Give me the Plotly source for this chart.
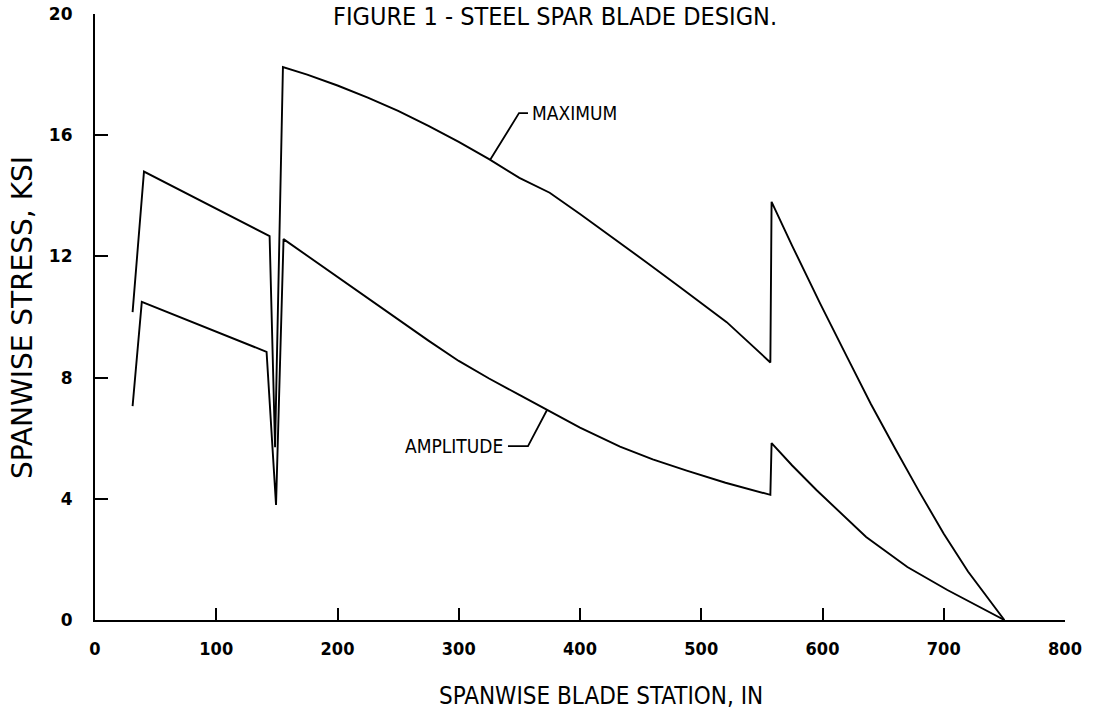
import plotly.graph_objects as go

# Data
station_max = [31, 40.4, 144, 148.5, 155, 175, 200, 225, 250, 275, 300, 325, 350, 375,
               400, 430, 455, 482, 521, 557, 558, 575, 598, 620, 640, 660, 680, 700,
               720, 750]
stress_max = [10.16, 14.8, 12.67, 5.7, 18.25, 18.0, 17.64, 17.24, 16.8, 16.31, 15.78, 15.21,
              14.59, 14.1, 13.4, 12.54, 11.8, 11.0, 9.83, 8.5, 13.8, 12.35, 10.45, 8.7,
              7.12, 5.65, 4.22, 2.85, 1.6, 0.0]

station_amp = [31, 38.6, 141.5, 149.3, 155.5, 175, 200, 225, 250, 275, 300, 325, 350, 373,
               400, 433, 460, 488, 520, 557, 558, 575, 595, 636, 670, 703, 750]
stress_amp = [7.06, 10.5, 8.85, 3.8, 12.57, 12.02, 11.33, 10.62, 9.92, 9.22, 8.55, 7.97,
              7.43, 6.93, 6.35, 5.72, 5.3, 4.93, 4.53, 4.13, 5.84, 5.1, 4.29, 2.74, 1.75,
              0.99, 0.0]

x_ticks = [0, 100, 200, 300, 400, 500, 600, 700, 800]
y_ticks = [0, 4, 8, 12, 16, 20]

FONT = "DejaVu Sans Condensed, Liberation Sans Narrow, sans-serif"
FONT_N = "DejaVu Sans, sans-serif"

# plot area in pixels (for placing free text)
L, R, T, B = 95, 30, 14, 91
W, H = 1095, 711
PW, PH = W - L - R, H - T - B


def px(x):
    return (x - L) / PW


def py(y):
    return (H - B - y) / PH


fig = go.Figure()
fig.add_trace(go.Scatter(x=station_max, y=stress_max, mode="lines",
                         line=dict(color="black", width=1.9), name="MAXIMUM",
                         showlegend=False))
fig.add_trace(go.Scatter(x=station_amp, y=stress_amp, mode="lines",
                         line=dict(color="black", width=1.9), name="AMPLITUDE",
                         showlegend=False))

# leader lines for labels
fig.add_shape(type="path", xref="x", yref="y",
              path="M 357.1 16.73 L 349.7 16.73 L 325.8 15.18",
              line=dict(color="black", width=1.8))
fig.add_shape(type="path", xref="x", yref="y",
              path="M 340.6 5.74 L 357.1 5.74 L 372.8 6.93",
              line=dict(color="black", width=1.8))

fig.add_annotation(x=359, y=16.73, xref="x", yref="y", text="MAXIMUM",
                   showarrow=False, xanchor="left", yanchor="middle",
                   font=dict(family=FONT, size=19, color="black"))
fig.add_annotation(x=338.5, y=5.74, xref="x", yref="y", text="AMPLITUDE",
                   showarrow=False, xanchor="right", yanchor="middle",
                   font=dict(family=FONT, size=19, color="black"))

# title (cut at the top edge in the reference; kept fully visible here)
fig.add_annotation(x=px(555), y=py(16), xref="paper", yref="paper",
                   text="FIGURE 1 - STEEL SPAR BLADE DESIGN.",
                   showarrow=False, xanchor="center", yanchor="middle",
                   font=dict(family=FONT, size=25, color="black"))

# axis titles
fig.add_annotation(x=px(601), y=py(696), xref="paper", yref="paper",
                   text="SPANWISE BLADE STATION, IN",
                   showarrow=False, xanchor="center", yanchor="middle",
                   font=dict(family=FONT, size=24, color="black"))
fig.add_annotation(x=px(22), y=py(318), xref="paper", yref="paper",
                   text="SPANWISE STRESS, KSI", textangle=-90,
                   showarrow=False, xanchor="center", yanchor="middle",
                   font=dict(family=FONT_N, size=28, color="black"))

fig.update_layout(
    width=W, height=H,
    margin=dict(l=L, r=R, t=T, b=B, autoexpand=False),
    paper_bgcolor="white", plot_bgcolor="white",
    font=dict(family=FONT, color="black"),
    xaxis=dict(range=[0, 800], tickvals=x_ticks,
               ticktext=["<b>%d</b>" % v for v in x_ticks],
               ticks="inside", ticklen=12, tickwidth=1.6, tickcolor="black",
               showline=True, linecolor="black", linewidth=2.2, automargin=False,
               showgrid=False, zeroline=False, ticklabelstandoff=11,
               tickfont=dict(family=FONT, size=18, color="black")),
    yaxis=dict(range=[0, 20], tickvals=y_ticks,
               ticktext=["<b>%d</b>" % v for v in y_ticks],
               ticks="inside", ticklen=13, tickwidth=1.6, tickcolor="black",
               showline=True, linecolor="black", linewidth=2.2, automargin=False,
               showgrid=False, zeroline=False, ticklabelstandoff=17,
               tickfont=dict(family=FONT_N, size=17, color="black")),
)

fig.write_html("out.html")
